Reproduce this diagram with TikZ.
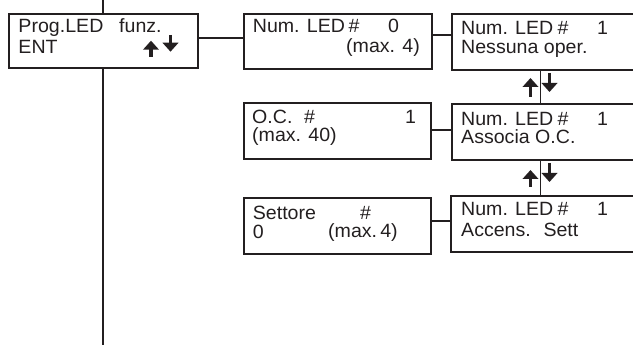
\documentclass[tikz,border=0pt]{standalone}
\usepackage{fontspec}
\setmainfont{Liberation Sans}[FakeStretch=1.02]
\usetikzlibrary{arrows.meta}
\definecolor{ink}{HTML}{231F20}
\begin{document}
\begin{tikzpicture}[x=1pt,y=-1pt,
  box/.style={draw=ink,line width=2pt,rectangle,inner sep=0pt,anchor=north west},
  txt/.style={inner sep=0pt,anchor=base west,text=ink,font=\fontsize{19.2}{19}\selectfont},
  txtr/.style={txt,anchor=base east},
  link/.style={draw=ink,line width=2pt},
  thin/.style={draw=ink,line width=1.1pt},
  updn/.style={draw=ink,line width=3.4pt,-{Triangle[width=15.5pt,length=9pt]}}]
\clip (0,0) rectangle (633,345);
% boxes
\node[box,minimum width=188.4pt,minimum height=54.6pt] (b1) at (8.3,12.7) {};
\node[box,minimum width=188.3pt,minimum height=55.6pt] (b2) at (242.7,12.7) {};
\node[box,minimum width=220pt,minimum height=56.3pt] (b3) at (451,13) {};
\node[box,minimum width=187.3pt,minimum height=56pt] (b4) at (242.7,102.3) {};
\node[box,minimum width=220pt,minimum height=56pt] (b5) at (451,103.3) {};
\node[box,minimum width=187pt,minimum height=56pt] (b6) at (243,197) {};
\node[box,minimum width=220pt,minimum height=56pt] (b7) at (450,194.5) {};
% helper coordinates
\coordinate (top) at (103,0);
\coordinate (bot) at (103,345);
\coordinate (xr) at (540.7,0);
% main vertical line
\draw[link] (top) -- (b1.north -| top);
\draw[link] (b1.south -| top) -- (bot);
% horizontal connectors
\draw[link] (b1.east |- 0,38) -- (b2.west |- 0,38);
\draw[link] (b2.east |- 0,35) -- (b3.west |- 0,35);
\draw[link] (b4.east |- 0,130) -- (b5.west |- 0,130);
\draw[link] (b6.east |- 0,221) -- (b7.west |- 0,221);
% thin vertical connectors
\draw[thin] (b3.south -| xr) -- (b5.north -| xr);
\draw[thin] (b5.south -| xr) -- (b7.north -| xr);
% arrow glyphs
\draw[updn] (151,56.7) -- (151,40.7);
\draw[updn] (170.5,35) -- (170.5,51.7);
\draw[updn] (530.5,97) -- (530.5,78);
\draw[updn] (549.5,73) -- (549.5,92);
\draw[updn] (530.5,187) -- (530.5,170);
\draw[updn] (549.5,163) -- (549.5,182);
% texts box 1
\node[txt] (t1a) at (18.3,32.7) {Prog.LED};
\node[txt] (t1b) at (119,32.7) {funz.};
\node[txt] (t1c) at (18.3,53.3) {ENT};
% box 2
\node[txt] (t2a) at (252.7,32.7) {Num. LED};
\node[txt] (t2h) at (348.5,32.7) {\#};
\node[txt] (t2b) at (388,32.7) {0};
\node[txtr] (t2c) at (420,52.5) {(max. 4)};
% box 3
\node[txt] (t3a) at (461,34.7) {Num. LED};
\node[txt] (t3h) at (557.5,34.7) {\#};
\node[txt] (t3b) at (597,34.7) {1};
\node[txt] (t3c) at (461,53.3) {Nessuna oper.};
% box 4
\node[txt] (t4a) at (252,123.3) {O.C.};
\node[txt] (t4b) at (304,123.3) {\#};
\node[txt] (t4c) at (405,123.3) {1};
\node[txt] (t4d) at (252,141.5) {(max. 40)};
% box 5
\node[txt] (t5a) at (461,125) {Num. LED};
\node[txt] (t5h) at (557.5,125) {\#};
\node[txt] (t5b) at (597,125) {1};
\node[txt] (t5c) at (461,144) {Associa O.C.};
% box 6
\node[txt] (t6a) at (252.7,219.3) {Settore};
\node[txt] (t6b) at (360,219.3) {\#};
\node[txt] (t6c) at (252.7,238) {0};
\node[txt] (t6d) at (328,237) {(max.\,4)};
% box 7
\node[txt] (t7a) at (461,215.7) {Num. LED};
\node[txt] (t7h) at (557.5,215.7) {\#};
\node[txt] (t7b) at (597,215.7) {1};
\node[txt] (t7c) at (461,236.5) {Accens.};
\node[txt] (t7d) at (543.3,236.5) {Sett};
\end{tikzpicture}
\end{document}
